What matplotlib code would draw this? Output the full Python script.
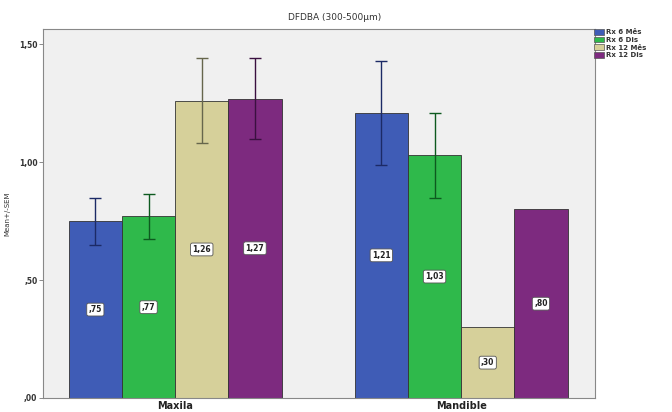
import numpy as np
import matplotlib
matplotlib.use('Agg')
from matplotlib import pyplot as plt
from matplotlib.patches import Patch

groups = ['Maxila', 'Mandible']
series = ['Rx 6 Mês', 'Rx 6 Dis', 'Rx 12 Mês', 'Rx 12 Dis']
means = [
	[0.75, 1.21],
	[0.77, 1.03],
	[1.26, 0.30],
	[1.27, 0.80],
]
sems = [
	[0.10, 0.22],
	[0.095, 0.18],
	[0.18, 0.0],
	[0.17, 0.0],
]
labels = [
	[',75', '1,21'],
	[',77', '1,03'],
	['1,26', ',30'],
	['1,27', ',80'],
]
yticks = [0.0, 0.5, 1.0, 1.5]
ytick_labels = [',00', ',50', '1,00', '1,50']

colors = ['#3f5cb6', '#2fb94b', '#d6d09a', '#7d2a7f']
err_colors = ['#1c2a66', '#0d5a1f', '#66664c', '#3a1040']

fig = plt.figure(figsize=(6.72, 4.12), dpi=100)
ax = fig.add_axes([43/672, 1 - 398/412, 552/672, 369/412])
ax.set_facecolor('#f0f0f0')

x = np.arange(len(groups))
w = 0.186
for i in range(len(series)):
	xs = x + (i - 1.5) * w
	ax.bar(xs, means[i], w, color=colors[i], edgecolor='#333333', linewidth=0.6, zorder=2)
	for j in range(len(groups)):
		if sems[i][j] > 0:
			ax.errorbar(xs[j], means[i][j], yerr=sems[i][j], color=err_colors[i],
				capsize=4.5, elinewidth=1.0, capthick=1.0, zorder=3)
		ax.text(xs[j], means[i][j] / 2, labels[i][j], ha='center', va='center',
			fontsize=5.5, fontweight='bold', color='#222222', zorder=4,
			bbox=dict(boxstyle='round,pad=0.25', fc='white', ec='#555555', lw=0.6))

ax.set_xlim(-0.462, 1.468)
ax.set_ylim(0, 1.565)
ax.set_xticks(x)
ax.set_xticklabels(groups, fontsize=7, fontweight='bold', color='#222222')
ax.tick_params(axis='x', length=0, pad=2)
ax.set_yticks(yticks)
ax.set_yticklabels(ytick_labels, fontsize=5.5, fontweight='bold', color='#333333')
ax.tick_params(axis='y', length=3, width=0.6, color='#777777', pad=1)
ax.set_ylabel('Mean+/-SEM', fontsize=5, color='#333333', labelpad=6)
for s in ax.spines.values():
	s.set_color('#888888')
	s.set_linewidth(0.8)

fig.text(335/672, 1 - 17/412, 'DFDBA (300-500µm)', ha='center', va='center',
	fontsize=6.5, color='#333333')

handles = [Patch(facecolor=c, edgecolor='#555555', linewidth=0.5) for c in colors]
leg = fig.legend(handles, series, loc='upper left', bbox_to_anchor=(594/672, 1 - 29/412),
	frameon=False, fontsize=5, handlelength=1.4, handleheight=0.9,
	handletextpad=0.4, labelspacing=0.2, borderaxespad=0, borderpad=0)
for t in leg.get_texts():
	t.set_fontweight('bold')
	t.set_color('#333333')

fig.savefig('out.png', dpi=100)
